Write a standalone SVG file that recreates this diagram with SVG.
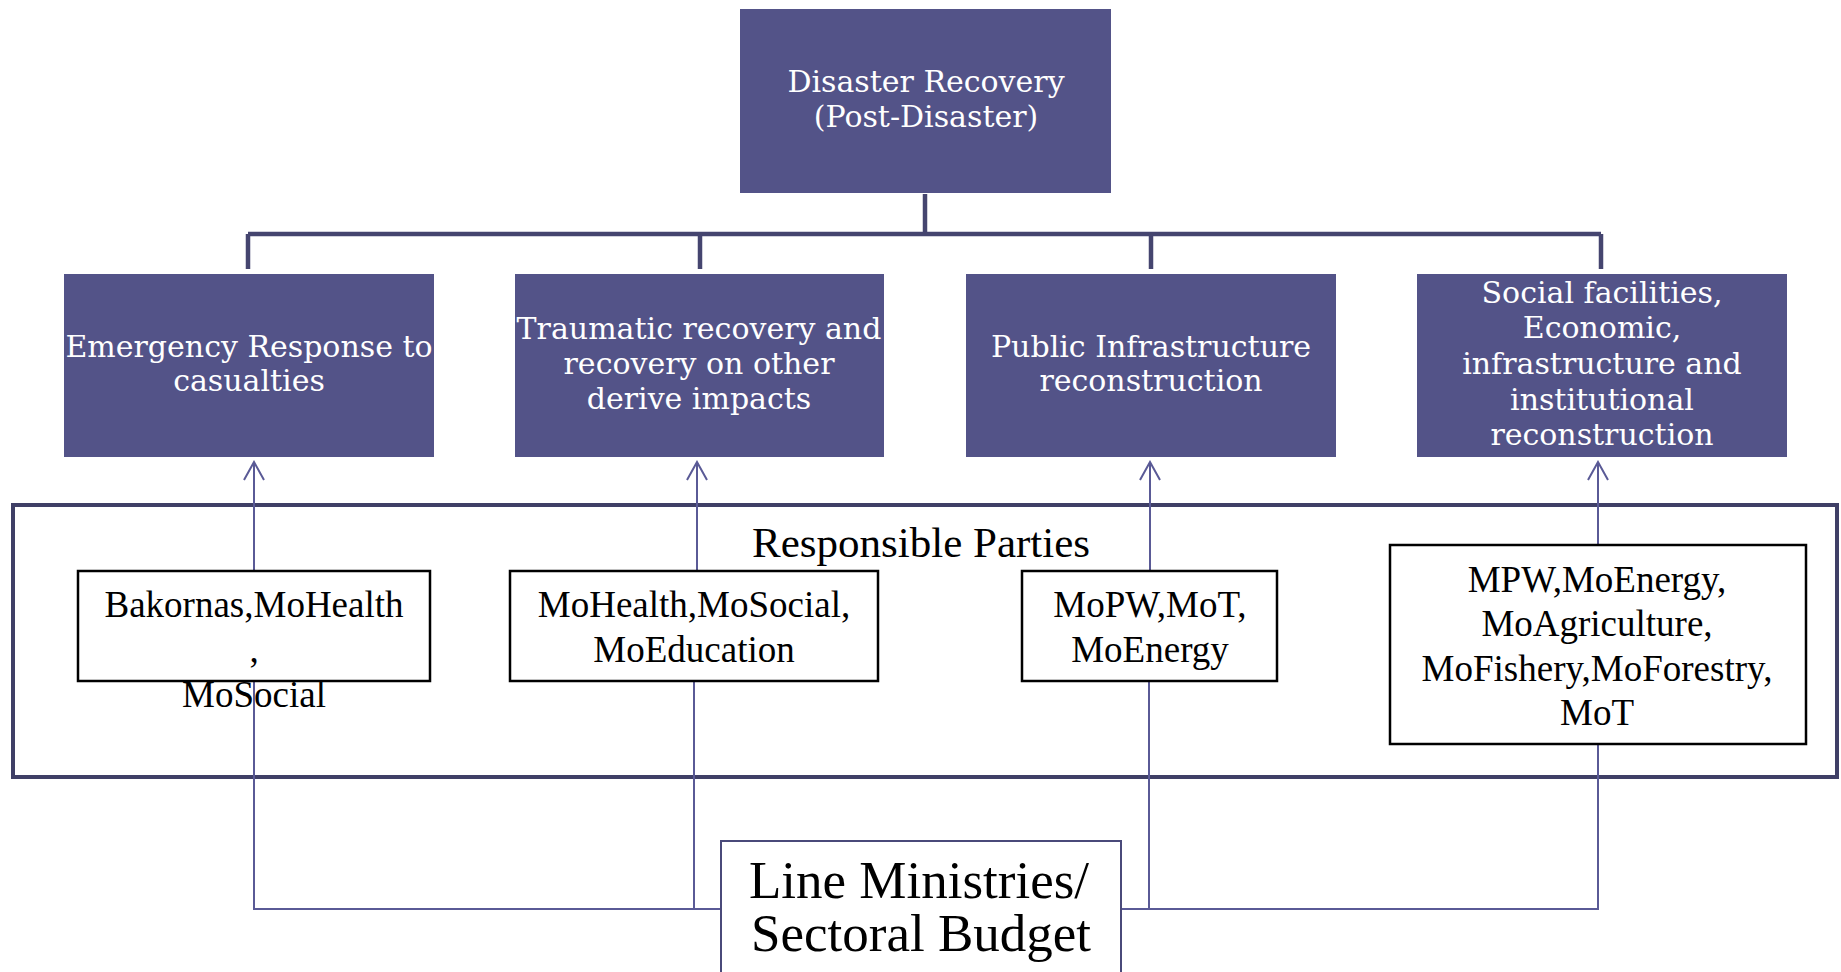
<svg xmlns="http://www.w3.org/2000/svg" width="1841" height="972" viewBox="0 0 1841 972">
  <style>
    .hdr { fill: #535388; }
    .hdr-t { font-family: "DejaVu Serif", "Liberation Serif", serif; font-size: 30px; fill: #ffffff; text-anchor: middle; }
    .party { fill: #ffffff; stroke: #000000; stroke-width: 2.5; }
    .party-t { font-family: "Liberation Serif", "Times New Roman", serif; font-size: 37px; fill: #000000; text-anchor: middle; }
    .tree { stroke: #45456f; stroke-width: 4.5; fill: none; }
    .conn { stroke: #5a5a96; stroke-width: 2; fill: none; }
    .frame { fill: none; stroke: #3f3f66; stroke-width: 4; }
  </style>
  <defs>
    <marker id="openArrow" markerUnits="userSpaceOnUse" markerWidth="22" markerHeight="24" refX="20" refY="11" orient="auto" viewBox="0 0 22 22">
      <path d="M2,1 L20,11 L2,21" fill="none" stroke="#5a5a96" stroke-width="2"/>
    </marker>
  </defs>
  <rect width="1841" height="972" fill="#ffffff"/>

  <!-- Responsible parties frame -->
  <g id="responsible-parties">
    <rect class="frame" x="13" y="505" width="1824" height="272"/>
    <text x="921" y="557" font-family="Liberation Serif, Times New Roman, serif" font-size="43" text-anchor="middle" fill="#000">Responsible Parties</text>
  </g>

  <!-- Connectors -->
  <g id="connectors">
    <!-- tree -->
    <path class="tree" d="M925,194 V234"/>
    <path class="tree" d="M248,234 H1601"/>
    <path class="tree" d="M248,234 V269 M700,234 V269 M1151,234 V269 M1601,234 V269"/>
    <!-- arrows up to headers -->
    <path class="conn" d="M254,570 V462" marker-end="url(#openArrow)"/>
    <path class="conn" d="M697,570 V462" marker-end="url(#openArrow)"/>
    <path class="conn" d="M1150,571 V462" marker-end="url(#openArrow)"/>
    <path class="conn" d="M1598,544 V462" marker-end="url(#openArrow)"/>
    <!-- from budget up to parties -->
    <path class="conn" d="M254,681 V909 H721"/>
    <path class="conn" d="M694,681 V909"/>
    <path class="conn" d="M1149,681 V909"/>
    <path class="conn" d="M1121,909 H1598 V744"/>
  </g>

  <!-- Top node -->
  <g id="disaster-recovery">
    <rect class="hdr" x="740" y="9" width="371" height="184"/>
    <text class="hdr-t" x="926" y="92">Disaster Recovery</text>
    <text class="hdr-t" x="926" y="127">(Post-Disaster)</text>
  </g>

  <g id="emergency-response">
    <rect class="hdr" x="64" y="274" width="370" height="183"/>
    <text class="hdr-t" x="249" y="357">Emergency Response to</text>
    <text class="hdr-t" x="249" y="391">casualties</text>
  </g>

  <g id="traumatic-recovery">
    <rect class="hdr" x="515" y="274" width="369" height="183"/>
    <text class="hdr-t" x="699" y="339">Traumatic recovery and</text>
    <text class="hdr-t" x="699" y="374">recovery on other</text>
    <text class="hdr-t" x="699" y="409">derive impacts</text>
  </g>

  <g id="public-infrastructure">
    <rect class="hdr" x="966" y="274" width="370" height="183"/>
    <text class="hdr-t" x="1151" y="357">Public Infrastructure</text>
    <text class="hdr-t" x="1151" y="391">reconstruction</text>
  </g>

  <g id="social-facilities">
    <rect class="hdr" x="1417" y="274" width="370" height="183"/>
    <text class="hdr-t" x="1602" y="303">Social facilities,</text>
    <text class="hdr-t" x="1602" y="338">Economic,</text>
    <text class="hdr-t" x="1602" y="374">infrastructure and</text>
    <text class="hdr-t" x="1602" y="410">institutional</text>
    <text class="hdr-t" x="1602" y="445">reconstruction</text>
  </g>

  <!-- Party boxes -->
  <g id="party-bakornas">
    <rect class="party" x="78" y="571" width="352" height="110"/>
    <text class="party-t" x="254" y="617">Bakornas,MoHealth</text>
    <text class="party-t" x="254" y="662">,</text>
    <text class="party-t" x="254" y="707">MoSocial</text>
  </g>

  <g id="party-mohealth">
    <rect class="party" x="510" y="571" width="368" height="110"/>
    <text class="party-t" x="694" y="617">MoHealth,MoSocial,</text>
    <text class="party-t" x="694" y="662">MoEducation</text>
  </g>

  <g id="party-mopw">
    <rect class="party" x="1022" y="571" width="255" height="110"/>
    <text class="party-t" x="1150" y="617">MoPW,MoT,</text>
    <text class="party-t" x="1150" y="662">MoEnergy</text>
  </g>

  <g id="party-mpw">
    <rect class="party" x="1390" y="545" width="416" height="199"/>
    <text class="party-t" x="1597" y="592">MPW,MoEnergy,</text>
    <text class="party-t" x="1597" y="636">MoAgriculture,</text>
    <text class="party-t" x="1597" y="681">MoFishery,MoForestry,</text>
    <text class="party-t" x="1597" y="725">MoT</text>
  </g>

  <!-- Budget node -->
  <g id="line-ministries">
    <rect x="721" y="841" width="400" height="140" fill="#ffffff" stroke="#4a4a7a" stroke-width="2"/>
    <text x="919" y="898" font-family="Liberation Serif, Times New Roman, serif" font-size="53" text-anchor="middle" fill="#000">Line Ministries/</text>
    <text x="921" y="951" font-family="Liberation Serif, Times New Roman, serif" font-size="53" text-anchor="middle" fill="#000">Sectoral Budget</text>
  </g>
</svg>
